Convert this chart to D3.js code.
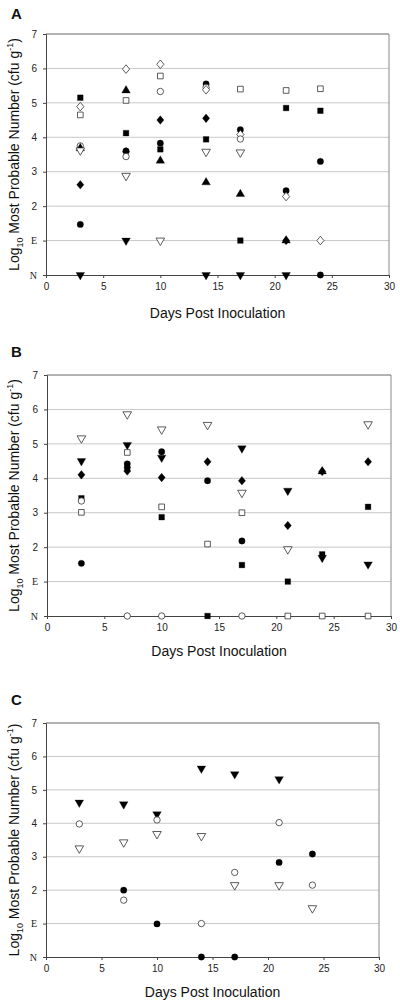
<!DOCTYPE html>
<html><head><meta charset="utf-8">
<script src="https://cdnjs.cloudflare.com/ajax/libs/d3/7.8.5/d3.min.js"></script>
<style>body{margin:0;background:#fff}svg{display:block}</style>
</head><body>
<script>
// ---- data ----
const xTicks = [0,5,10,15,20,25,30];
const yTickValues = [0,1,2,3,4,5,6,7];
const yTickLabels = ["N","E","2","3","4","5","6","7"];
// symbols: fc filled circle, oc open circle, fs filled square, os open square,
// fd filled diamond, od open diamond, fu filled up-triangle, fdn filled down-triangle, odn open down-triangle
const aDays   = [3,3,3,3,3,3,3,3,3, 7,7,7,7,7,7,7,7,7, 10,10,10,10,10,10,10,10, 14,14,14,14,14,14,14,14, 17,17,17,17,17,17,17,17, 21,21,21,21,21,21,21, 24,24,24,24,24];
const aValues = [5.15,4.89,4.65,3.75,3.68,3.62,2.62,1.47,0, 5.98,5.36,5.07,4.12,3.6,3.58,3.44,2.88,1.0, 6.12,5.78,5.33,4.5,3.83,3.65,3.32,1.0, 5.55,5.45,5.38,4.55,3.94,3.58,2.69,0, 5.4,4.22,4.08,3.95,3.56,2.35,1.0,0, 5.36,4.85,2.45,2.28,1.0,1.0,0, 5.41,4.77,3.3,1.0,0];
const aSymbols= ["fs","od","os","oc","fu","odn","fd","fc","fdn", "od","fu","os","fs","fc","fd","oc","odn","fdn", "od","os","oc","fd","fc","fs","fu","odn", "fc","oc","od","fd","fs","odn","fu","fdn", "os","fc","od","oc","odn","fu","fs","fdn", "os","fs","fc","od","fd","fu","fdn", "os","fs","fc","od","fc"];

const bDays   = [3,3,3,3,3,3,3, 7,7,7,7,7,7,7, 10,10,10,10,10,10,10, 14,14,14,14,14, 17,17,17,17,17,17,17, 21,21,21,21,21, 24,24,24,24,24, 28,28,28,28,28];
const bValues = [5.16,4.5,4.1,3.42,3.34,3.01,1.53, 5.86,4.97,4.75,4.42,4.31,4.21,0, 5.42,4.77,4.6,4.02,3.17,2.87,0, 5.55,4.48,3.93,2.09,0, 4.87,3.93,3.58,3.0,2.18,1.48,0, 3.64,2.63,1.94,1.0,0, 4.2,4.2,1.79,1.69,0, 5.57,4.48,3.17,1.5,0];
const bSymbols= ["odn","fdn","fd","fs","oc","os","fc", "odn","fdn","os","fc","fc","fd","oc", "odn","fc","fdn","fd","os","fs","oc", "odn","fd","fc","os","fs", "fdn","fd","odn","os","fc","fs","oc", "fdn","fd","odn","fs","os", "fd","fu","fs","fdn","os", "odn","fd","fs","fdn","os"];

const cDays   = [3,3,3, 7,7,7,7, 10,10,10,10, 14,14,14,14, 17,17,17,17, 21,21,21,21, 24,24,24];
const cValues = [4.62,3.98,3.25, 4.57,3.43,2.0,1.7, 4.27,4.1,3.68,0.99, 5.64,3.62,1.0,0, 5.47,2.53,2.15,0, 5.32,4.02,2.83,2.15, 3.08,2.15,1.46];
const cSymbols= ["fdn","oc","odn", "fdn","odn","fc","oc", "fdn","oc","odn","fc", "fdn","odn","oc","fc", "fdn","oc","odn","fc", "fdn","oc","fc","odn", "fc","oc","odn"];

// ---- drawing ----
const W = 400, H = 1006;
const svg = d3.select("body").append("svg").attr("width", W).attr("height", H)
  .style("font-family", "'Liberation Sans', Arial, sans-serif");

const panels = [
  {label:"A", days:aDays, values:aValues, symbols:aSymbols, x0:46, x1:389, yTop:34, yBot:275, labelY:19, titleY:318},
  {label:"B", days:bDays, values:bValues, symbols:bSymbols, x0:47, x1:391, yTop:375, yBot:616, labelY:357, titleY:656},
  {label:"C", days:cDays, values:cValues, symbols:cSymbols, x0:46, x1:379, yTop:723, yBot:957, labelY:705, titleY:997}
];

const diamondPath = d3.path();
diamondPath.moveTo(0,-4.3); diamondPath.lineTo(3.6,0); diamondPath.lineTo(0,4.3); diamondPath.lineTo(-3.6,0); diamondPath.closePath();

function symPath(code) {
  if (code === "fd" || code === "od") return diamondPath.toString();
  let type = d3.symbolCircle;
  if (code === "fs" || code === "os") type = d3.symbolSquare;
  else if (code === "fu" || code === "fdn" || code === "odn") type = d3.symbolTriangle;
  return d3.symbol().type(type).size(32)();
}

panels.forEach(p => {
  const x = d3.scaleLinear().domain([0,30]).range([p.x0, p.x1]);
  const y = d3.scaleLinear().domain([0,7]).range([p.yBot, p.yTop]);
  const g = svg.append("g");

  // gridlines
  g.selectAll("line.grid").data([1,2,3,4,5,6]).enter().append("line")
    .attr("x1", p.x0).attr("x2", p.x1).attr("y1", d => y(d)).attr("y2", d => y(d))
    .attr("stroke", "#c8c8c8").attr("stroke-width", 1);
  // frame top/right
  g.append("line").attr("x1", p.x0).attr("x2", p.x1).attr("y1", y(7)).attr("y2", y(7))
    .attr("stroke", "#666").attr("stroke-width", 1);
  g.append("line").attr("x1", p.x1).attr("x2", p.x1).attr("y1", y(7)).attr("y2", y(0))
    .attr("stroke", "#888").attr("stroke-width", 1);

  // axes
  const xAxis = d3.axisBottom(x).tickValues(xTicks).tickSize(3).tickPadding(5);
  const gx = g.append("g").attr("transform", `translate(0,${p.yBot})`).call(xAxis);
  gx.select(".domain").attr("stroke", "#444");
  gx.selectAll(".tick line").attr("stroke", "#444");
  gx.selectAll("text").attr("font-size", 10).attr("fill", "#222");

  const yAxis = d3.axisLeft(y).tickValues(yTickValues).tickFormat((d,i) => yTickLabels[i]).tickSize(3).tickPadding(6);
  const gy = g.append("g").attr("transform", `translate(${p.x0},0)`).call(yAxis);
  gy.select(".domain").attr("stroke", "#444");
  gy.selectAll(".tick line").attr("stroke", "#444");
  gy.selectAll("text").attr("font-size", 10).attr("fill", "#222")
    .style("font-family", (d) => d < 2 ? "'Liberation Serif', 'Times New Roman', serif" : null);

  // points
  const pts = p.days.map((d,i) => ({day:d, v:p.values[i], s:p.symbols[i]}));
  g.selectAll("path.pt").data(pts).enter().append("path")
    .attr("d", d => symPath(d.s))
    .attr("transform", d => `translate(${x(d.day)},${y(d.v)})` + (d.s === "fdn" || d.s === "odn" ? " rotate(180)" : ""))
    .attr("fill", d => d.s.startsWith("f") ? "#000" : "#fff")
    .attr("stroke", d => d.s.startsWith("f") ? "#000" : "#333")
    .attr("stroke-width", d => d.s.startsWith("f") ? 0.3 : 0.8);

  // panel label
  svg.append("text").attr("x", 11).attr("y", p.labelY).text(p.label)
    .attr("font-size", 15).attr("font-weight", "bold").attr("fill", "#111");

  // x title
  svg.append("text").attr("x", (p.x0 + p.x1) / 2).attr("y", p.titleY)
    .attr("text-anchor", "middle").attr("font-size", 14).attr("fill", "#111")
    .text("Days Post Inoculation");

  // y title
  const cy = (p.yTop + p.yBot) / 2;
  const yt = svg.append("text").attr("transform", `translate(19,${cy}) rotate(-90)`)
    .attr("text-anchor", "middle").attr("font-size", 14).attr("fill", "#111");
  yt.append("tspan").text("Log");
  yt.append("tspan").attr("font-size", 9).attr("dy", 4).text("10");
  yt.append("tspan").attr("dy", -4).text(" Most Probable Number (cfu g");
  yt.append("tspan").attr("font-size", 9).attr("dy", -6).text("-1");
  yt.append("tspan").attr("dy", 6).text(")");
});
</script>
</body></html>
